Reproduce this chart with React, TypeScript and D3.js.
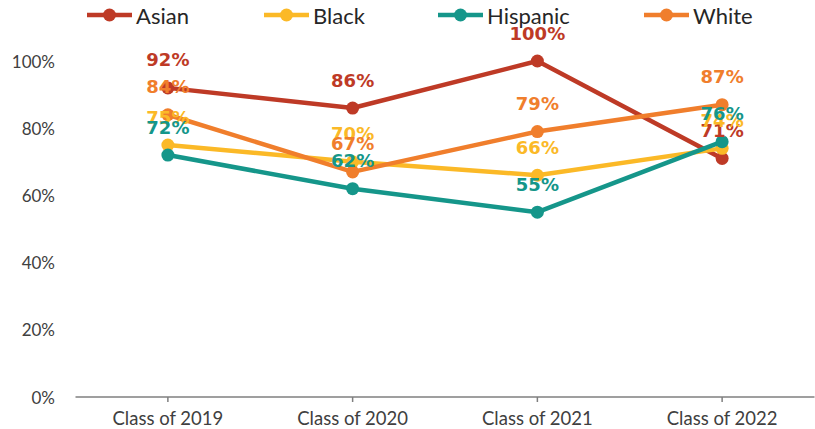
import React from "react";
import * as d3 from "d3";

const categories = ["Class of 2019", "Class of 2020", "Class of 2021", "Class of 2022"];
const seriesNames = ["Asian", "Black", "Hispanic", "White"];
const asian = [92, 86, 100, 71];
const black = [75, 70, 66, 74];
const hispanic = [72, 62, 55, 76];
const white = [84, 67, 79, 87];
const yTicks = [0, 20, 40, 60, 80, 100];
const colors = ["#BE3A26", "#FBB927", "#15968A", "#F07E2C"];
const legendX = [87, 264, 438, 644];

const W = 815;
const H = 429;

export default function App() {
  const values = [asian, black, hispanic, white];
  const x = d3.scaleBand<string>().domain(categories).range([75.5, 814.5]).padding(0);
  const cx = (c: string) => (x(c) as number) + x.bandwidth() / 2;
  const y = d3.scaleLinear().domain([0, 100]).range([397, 61]);
  const line = d3
    .line<number>()
    .x((_, i) => cx(categories[i]))
    .y((d) => y(d));

  return (
    <svg width={W} height={H} style={{ position: "absolute", left: 0, top: 0, background: "#fff" }}>
      {yTicks.map((t) => (
        <text
          key={t}
          x={55}
          y={y(t)}
          textAnchor="end"
          dominantBaseline="central"
          fontFamily="Lato"
          fontSize={17}
          fill="#404040"
        >
          {t + "%"}
        </text>
      ))}
      <line x1={x.range()[0]} x2={x.range()[1]} y1={y(0)} y2={y(0)} stroke="#7f7f7f" strokeWidth={1.5} />
      {categories.map((c) => (
        <g key={c}>
          <line x1={cx(c)} x2={cx(c)} y1={y(0)} y2={y(0) + 5} stroke="#7f7f7f" strokeWidth={1.5} />
          <text
            x={cx(c)}
            y={418}
            textAnchor="middle"
            dominantBaseline="central"
            fontFamily="Lato"
            fontSize={18.5}
            fill="#404040"
          >
            {c}
          </text>
        </g>
      ))}
      {values.map((vals, si) => (
        <g key={seriesNames[si]}>
          <path d={line(vals) || ""} fill="none" stroke={colors[si]} strokeWidth={4.5} strokeLinejoin="round" />
          {vals.map((v, i) => (
            <circle key={i} cx={cx(categories[i])} cy={y(v)} r={6.5} fill={colors[si]} />
          ))}
        </g>
      ))}
      {values.map((vals, si) => (
        <g key={"l" + si}>
          {vals.map((v, i) => (
            <text
              key={i}
              x={cx(categories[i])}
              y={y(v) - 28}
              textAnchor="middle"
              dominantBaseline="central"
              fontFamily="DejaVu Sans"
              fontWeight={700}
              fontSize={18}
              fill={colors[si]}
            >
              {v + "%"}
            </text>
          ))}
        </g>
      ))}
      {seriesNames.map((s, si) => (
        <g key={"lg" + s} transform={`translate(${legendX[si]},15)`}>
          <line x1={0} x2={45} y1={0} y2={0} stroke={colors[si]} strokeWidth={4.5} />
          <circle cx={22.5} cy={0} r={6.5} fill={colors[si]} />
          <text x={49} y={0} dominantBaseline="central" fontFamily="Lato" fontSize={22} fill="#262626">
            {s}
          </text>
        </g>
      ))}
    </svg>
  );
}
